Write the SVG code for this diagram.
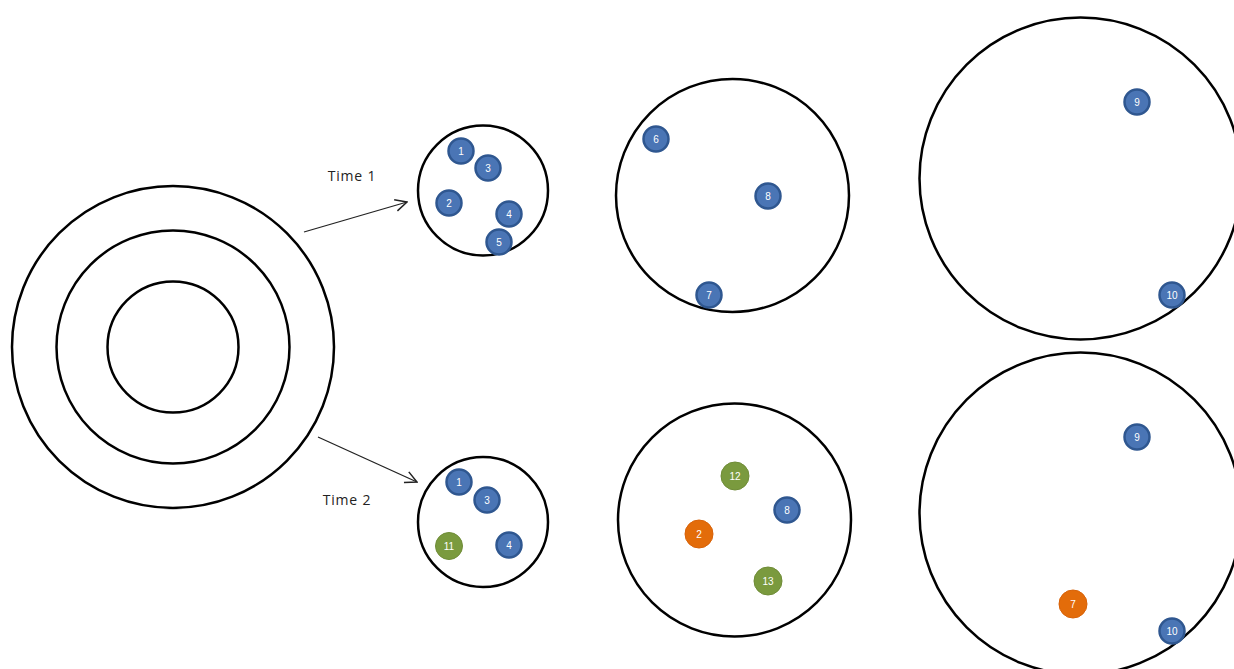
<svg xmlns="http://www.w3.org/2000/svg" width="1234" height="669" viewBox="0 0 1234 669">
<defs>
<style>
.ring{fill:none;stroke:#000;stroke-width:2.5}
.b{fill:#4a75b5;stroke:#2f5790;stroke-width:2.5}
.g{fill:#7a9a3e;stroke:#6f8c37;stroke-width:1}
.o{fill:#e36c0a;stroke:#d86208;stroke-width:1}
.n{font-family:"Liberation Sans",Arial,sans-serif;font-size:10px;fill:#fff;text-anchor:middle}
.lbl{font-family:"Open Sans","Liberation Sans",sans-serif;font-size:14px;letter-spacing:0.8px;fill:#222;text-anchor:middle}
.arr{fill:none;stroke:#222;stroke-width:1.3}
</style>
<marker id="ah" viewBox="0 0 12 12" refX="11" refY="6" markerWidth="14" markerHeight="14" markerUnits="userSpaceOnUse" orient="auto">
<path d="M1,1 L11,6 L1,11" fill="none" stroke="#222" stroke-width="1.3"/>
</marker>
</defs>
<rect width="1234" height="669" fill="#fff"/>
<g id="target">
<circle class="ring" cx="173" cy="347" r="161"/>
<circle class="ring" cx="173" cy="347" r="116.5"/>
<circle class="ring" cx="173" cy="347" r="65.5"/>
</g>
<g id="connectors">
<line class="arr" x1="304" y1="232" x2="407" y2="202" marker-end="url(#ah)"/>
<line class="arr" x1="318" y1="437" x2="417" y2="482" marker-end="url(#ah)"/>
<text class="lbl" x="352" y="181">Time 1</text>
<text class="lbl" x="347" y="505">Time 2</text>
</g>
<g id="t1-small">
<circle class="ring" cx="483" cy="190.5" r="65"/>
<circle class="b" cx="461" cy="151" r="12.5"/><text class="n" x="461" y="154.5">1</text>
<circle class="b" cx="488" cy="168" r="12.5"/><text class="n" x="488" y="171.5">3</text>
<circle class="b" cx="449" cy="203" r="12.5"/><text class="n" x="449" y="206.5">2</text>
<circle class="b" cx="509" cy="214" r="12.5"/><text class="n" x="509" y="217.5">4</text>
<circle class="b" cx="499" cy="242" r="12.5"/><text class="n" x="499" y="245.5">5</text>
</g>
<g id="t1-mid">
<circle class="ring" cx="732.5" cy="195.5" r="116.5"/>
<circle class="b" cx="656" cy="139" r="12.5"/><text class="n" x="656" y="142.5">6</text>
<circle class="b" cx="768" cy="196" r="12.5"/><text class="n" x="768" y="199.5">8</text>
<circle class="b" cx="709" cy="295" r="12.5"/><text class="n" x="709" y="298.5">7</text>
</g>
<g id="t1-large">
<circle class="ring" cx="1080.5" cy="178.5" r="161"/>
<circle class="b" cx="1137" cy="102" r="12.5"/><text class="n" x="1137" y="105.5">9</text>
<circle class="b" cx="1172" cy="295" r="12.5"/><text class="n" x="1172" y="298.5">10</text>
</g>
<g id="t2-small">
<circle class="ring" cx="483" cy="522" r="65"/>
<circle class="b" cx="459" cy="482" r="12.5"/><text class="n" x="459" y="485.5">1</text>
<circle class="b" cx="487" cy="500" r="12.5"/><text class="n" x="487" y="503.5">3</text>
<circle class="g" cx="449" cy="546" r="13.5"/><text class="n" x="449" y="549.5">11</text>
<circle class="b" cx="509" cy="545" r="12.5"/><text class="n" x="509" y="548.5">4</text>
</g>
<g id="t2-mid">
<circle class="ring" cx="734.5" cy="520" r="116.5"/>
<circle class="g" cx="735" cy="476" r="14"/><text class="n" x="735" y="479.5">12</text>
<circle class="b" cx="787" cy="510" r="12.5"/><text class="n" x="787" y="513.5">8</text>
<circle class="o" cx="699" cy="534" r="14"/><text class="n" x="699" y="537.5">2</text>
<circle class="g" cx="768" cy="581" r="14"/><text class="n" x="768" y="584.5">13</text>
</g>
<g id="t2-large">
<circle class="ring" cx="1080.5" cy="513.5" r="161"/>
<circle class="b" cx="1137" cy="437" r="12.5"/><text class="n" x="1137" y="440.5">9</text>
<circle class="o" cx="1073" cy="604" r="14"/><text class="n" x="1073" y="607.5">7</text>
<circle class="b" cx="1172" cy="631" r="12.5"/><text class="n" x="1172" y="634.5">10</text>
</g>
</svg>
